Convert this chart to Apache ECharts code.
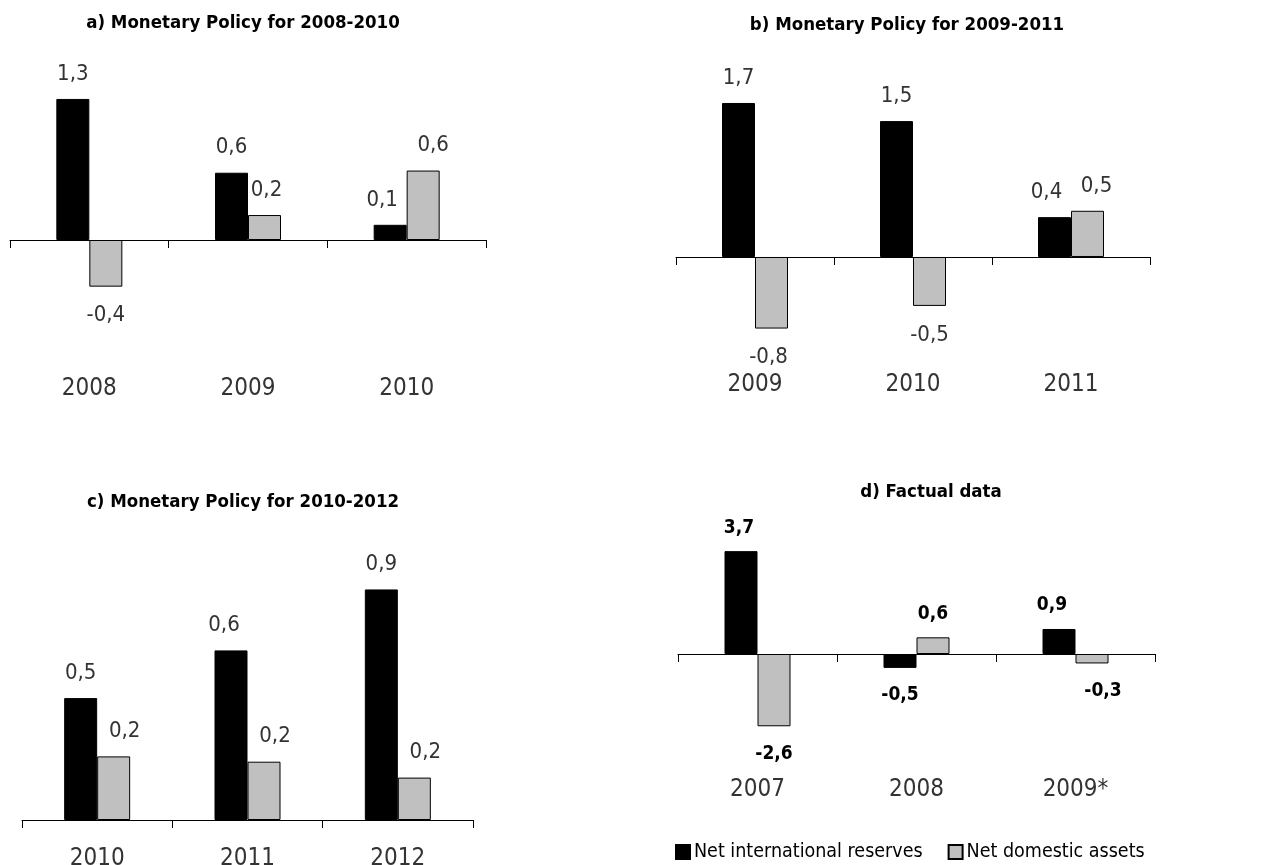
<!DOCTYPE html>
<html>
<head>
<meta charset="utf-8">
<script src="https://cdn.jsdelivr.net/npm/echarts@6/dist/echarts.min.js"></script>
<style>
html,body{margin:0;padding:0;background:#fff;}
#chart{width:1279px;height:865px;}
</style>
</head>
<body>
<div id="chart"></div>
<script>
// ---- Data ----
const titles = [
  'a) Monetary Policy for 2008-2010',
  'b) Monetary Policy for 2009-2011',
  'c) Monetary Policy for 2010-2012',
  'd) Factual data'
];
const seriesNames = ['Net international reserves', 'Net domestic assets'];

const catsA = ['2008', '2009', '2010'];
const nirA = [1.3, 0.62, 0.14];
const ndaA = [-0.43, 0.23, 0.64];

const catsB = ['2009', '2010', '2011'];
const nirB = [1.7, 1.5, 0.44];
const ndaB = [-0.79, -0.54, 0.51];

const catsC = ['2010', '2011', '2012'];
const nirC = [0.46, 0.64, 0.87];
const ndaC = [0.24, 0.22, 0.16];

const catsD = ['2007', '2008', '2009*'];
const nirD = [3.7, -0.5, 0.9];
const ndaD = [-2.6, 0.6, -0.34];

// ---- Styling / layout ----
const FONT = "'Liberation Sans Narrow', 'DejaVu Sans Condensed', 'Liberation Sans', Arial, sans-serif";
const panels = [
  {cats: catsA, nir: nirA, nda: ndaA, grid: {left: 10, width: 476, top: 66.4, height: 303.8}, min: -1.2, max: 1.6, margin: 7, bold: false, title: {x: 243, y: 14},
   nirOff: [0, 0, -8], ndaOff: [0, 2, 10]},
  {cats: catsB, nir: nirB, nda: ndaB, grid: {left: 676, width: 474, top: 75.8, height: 289.9}, min: -1.2, max: 2.0, margin: 7, bold: false, title: {x: 907, y: 16},
   nirOff: [0, 0, -8], ndaOff: [-3, 0, 9]},
  {cats: catsC, nir: nirC, nda: ndaC, grid: {left: 22, width: 451, top: 555, height: 265}, min: 0, max: 1.0, margin: 27, bold: false, title: {x: 243, y: 493},
   nirOff: [0, -7, 0], ndaOff: [11, 11, 11]},
  {cats: catsD, nir: nirD, nda: ndaD, grid: {left: 678, width: 477, top: 515, height: 250.2}, min: -4, max: 5, margin: 13, bold: true, title: {x: 931, y: 483},
   nirOff: [-2, 0, -7], ndaOff: [0, 0, 11]}
];

function fmt(v) { return v.toFixed(1).replace('.', ','); }

const grid = [], xAxis = [], yAxis = [], series = [], title = [];
panels.forEach((p, i) => {
  grid.push(Object.assign({outerBoundsMode: 'none', containLabel: false}, p.grid));
  title.push({
    text: titles[i], left: p.title.x, top: p.title.y, textAlign: 'center', padding: 0,
    textStyle: {fontFamily: FONT, fontSize: 18.5, fontWeight: 'bold', color: '#000'}
  });
  xAxis.push({
    type: 'category', gridIndex: i, data: p.cats,
    axisLine: {show: true, onZero: true, lineStyle: {color: '#000', width: 1}},
    axisTick: {show: true, length: 8, lineStyle: {color: '#000', width: 1}},
    axisLabel: {margin: p.margin, fontFamily: FONT, fontSize: 24, color: '#333'},
    splitLine: {show: false}
  });
  yAxis.push({type: 'value', gridIndex: i, min: p.min, max: p.max, show: false, splitLine: {show: false}});
  const mk = (vals, offs, name, color) => ({
    type: 'bar', name: name, xAxisIndex: i, yAxisIndex: i,
    barWidth: 33, barGap: '0%',
    itemStyle: {color: color, borderColor: '#000', borderWidth: 1},
    data: vals.map((v, k) => ({
      value: v,
      label: {position: v >= 0 ? 'top' : 'bottom', distance: v >= 0 ? 14 : 18, offset: [offs[k], 0]}
    })),
    label: {
      show: true,
      fontFamily: FONT, fontSize: p.bold ? 19 : 22, color: p.bold ? '#000' : '#333',
      fontWeight: p.bold ? 'bold' : 'normal',
      formatter: (d) => fmt(d.value)
    },
    emphasis: {disabled: true},
    silent: true
  });
  series.push(mk(p.nir, p.nirOff, seriesNames[0], '#000000'));
  series.push(mk(p.nda, p.ndaOff, seriesNames[1], '#c0c0c0'));
});

const chart = echarts.init(document.getElementById('chart'), null, {renderer: 'canvas'});
chart.setOption({
  animation: false,
  backgroundColor: '#fff',
  title: title,
  legend: {
    data: seriesNames, left: 675, top: 842, orient: 'horizontal',
    itemWidth: 14, itemHeight: 14, itemGap: 25, padding: 0,
    icon: 'rect', selectedMode: false,
    textStyle: {fontFamily: FONT, fontSize: 19.5, color: '#000', padding: [0, 0, 0, -1]}
  },
  grid: grid, xAxis: xAxis, yAxis: yAxis, series: series
});
</script>
</body>
</html>
